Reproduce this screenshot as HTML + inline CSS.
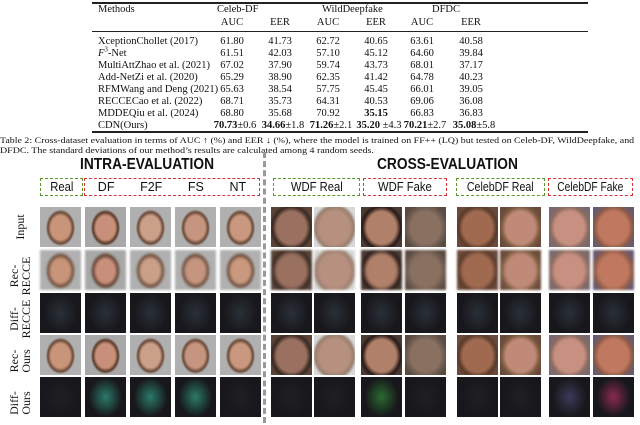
<!DOCTYPE html>
<html><head><meta charset="utf-8">
<style>
body{margin:0;width:640px;height:423px;background:#fff;position:relative;overflow:hidden;font-family:"Liberation Serif",serif;color:#111}
.a{position:absolute;white-space:nowrap}
.t{font-size:10.5px}
.c{text-align:center;width:60px;margin-left:-30px}
.rule{position:absolute;left:92px;width:496px;background:#222}
.ttl{position:absolute;font-family:"Liberation Sans",sans-serif;font-weight:bold;font-size:16px;top:156px;transform-origin:0 0;transform:scaleX(0.86)}
.box{position:absolute;top:178px;height:18px;border:1.5px dashed;font-family:"Liberation Sans",sans-serif;font-size:12.5px;line-height:16px;text-align:center;box-sizing:border-box;white-space:nowrap;overflow:visible}
.box span.s{display:inline-block;transform:scaleX(0.9)}
.g{border-color:#5a9a2a}.r{border-color:#d8333a}
.img{position:absolute;width:41px;height:40px}
.lbl{position:absolute;font-size:12px;transform:rotate(-90deg);text-align:center;width:44px;line-height:12px}
</style></head><body>
<div class="rule" style="top:2px;height:1.5px"></div>
<div class="rule" style="top:31px;height:1px"></div>
<div class="rule" style="top:131px;height:1.5px"></div>
<div id="table"></div>
<div class="a t" style="left:0;top:135px;font-size:8.8px;line-height:10px;transform-origin:0 0;transform:scaleX(1.13)">Table 2: Cross-dataset evaluation in terms of AUC ↑ (%) and EER ↓ (%), where the model is trained on FF++ (LQ) but tested on Celeb-DF, WildDeepfake, and<br>DFDC. The standard deviations of our method’s results are calculated among 4 random seeds.</div>
<div class="ttl" style="left:80px">INTRA-EVALUATION</div>
<div class="ttl" style="left:377px">CROSS-EVALUATION</div>
<div style="position:absolute;left:263px;top:152px;height:271px;border-left:3px dashed #999"></div>
<div class="box g" style="left:40px;width:43px"><span class="s">Real</span></div>
<div class="box r" style="left:84px;width:176px"><span style="display:flex;justify-content:space-around"><span>DF</span><span>F2F</span><span>FS</span><span>NT</span></span></div>
<div class="box g" style="left:273px;width:87px"><span class="s">WDF Real</span></div>
<div class="box r" style="left:363px;width:84px"><span class="s">WDF Fake</span></div>
<div class="box g" style="left:456px;width:89px"><span class="s" style="transform:scaleX(0.85);margin-left:-6px;margin-right:-6px">CelebDF Real</span></div>
<div class="box r" style="left:548px;width:85px"><span class="s" style="transform:scaleX(0.82);margin-left:-8px;margin-right:-8px">CelebDF Fake</span></div>
<div id="grid"></div>
<script>
const methods=["XceptionChollet (2017)","<i>F</i><sup style='font-size:7px;line-height:0'>3</sup>-Net","MultiAttZhao et al. (2021)","Add-NetZi et al. (2020)","RFMWang and Deng (2021)","RECCECao et al. (2022)","MDDEQiu et al. (2024)","CDN(Ours)"];
const vals=[["61.80","41.73","62.72","40.65","63.61","40.58"],["61.51","42.03","57.10","45.12","64.60","39.84"],["67.02","37.90","59.74","43.73","68.01","37.17"],["65.29","38.90","62.35","41.42","64.78","40.23"],["65.63","38.54","57.75","45.45","66.01","39.05"],["68.71","35.73","64.31","40.53","69.06","36.08"],["68.80","35.68","70.92","<b>35.15</b>","66.83","36.83"],["<b>70.73</b>±0.6","<b>34.66</b>±1.8","<b>71.26</b>±2.1","<b>35.20</b> ±4.3","<b>70.21</b>±2.7","<b>35.08</b>±5.8"]];
const colX=[232,280,328,376,422,471];
const T=document.getElementById('table');
function add(html,x,y,cls,name){const d=document.createElement('div');d.className='a t '+(cls||'');d.style.left=x+'px';d.style.top=y+'px';d.innerHTML=html;


T.appendChild(d);}
add('Methods',98,4,'','header-methods');
add('Celeb-DF',217,4,'','dataset-header');
add('WildDeepfake',322,4,'','dataset-header');
add('DFDC',432,4,'','dataset-header');
['AUC','EER','AUC','EER','AUC','EER'].forEach((s,i)=>add(s,colX[i],17,'c','subheader'));
methods.forEach((m,r)=>{const y=36+r*12;add(m,98,y,'','method-name');vals[r].forEach((v,i)=>add(v,colX[i]+(r==7?3:0),y,'c','value-cell'));});
const G=document.getElementById('grid');
const cols=[40,85,130,175,220,271,314,361,405,457,500,549,593];
const rowY=[207,250,293,335,377];
const labels=["Input","Rec-<br>RECCE","Diff-<br>RECCE","Rec-<br>Ours","Diff-<br>Ours"];
const skin=["#c9957a","#c8907a","#caa088","#c59580","#c9987f","#9a7060","#b89080","#b08068","#8a7060","#a06a50","#c08a78","#c89080","#c07860"];
const bg=["#b0b0b0","#a8a8a8","#b0b0b0","#b0b0b0","#b0b0b0","#5a4438","#d8d8d8","#4a3a32","#5a4a40","#6a4a3a","#6a4a3a","#7a6a70","#6a5a70"];
const hair=["#6a4a38","#5a3a2a","#6a4a38","#6a4a38","#6a4a38","#3a2a22","#9a8070","#2a1a18","#6a5a50","#5a3a2a","#7a5a40","#8a6a60","#8a5a48"];
rowY.forEach((y,r)=>{
 const l=document.createElement('div');l.className='lbl';l.style.left='-2px';l.style.top=(y+14)+'px';l.innerHTML=labels[r];
 
 
 G.appendChild(l);
 cols.forEach((x,c)=>{const d=document.createElement('div');d.className='img';d.style.left=x+'px';d.style.top=y+'px';
  let s=skin[c];
  if(r==2||r==4){let fc=(r==4&&c>=1&&c<=3)?'#2a7a68':(r==4&&c==12)?'#8a2a50':(r==4&&c==7)?'#2a6a30':(r==4&&c==11)?'#3a3a5a':(r==4)?'#202024':'#2a3038';
   d.style.background='radial-gradient(ellipse 48% 58% at 50% 50%,'+fc+' 0%,#18181c 85%)';}
  else{let big=c>=5;d.style.background='radial-gradient(ellipse '+(big?'55% 62%':'36% 46%')+' at 50% 52%,'+s+' 0%,'+s+' 65%,'+hair[c]+' 85%,'+bg[c]+' 100%)';
   if(r==1)d.style.filter='blur(1px)';}
  
  
  G.appendChild(d);});
});
</script>
</body></html>
